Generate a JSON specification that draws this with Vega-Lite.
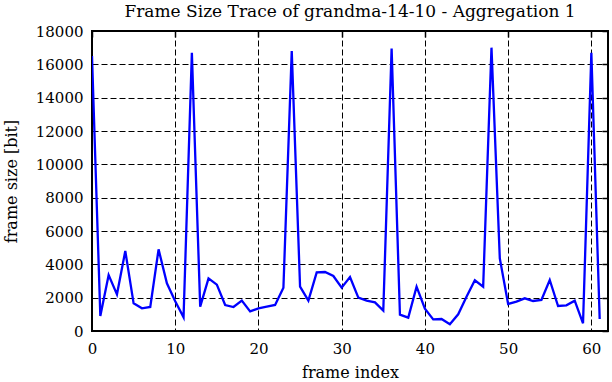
{
  "$schema": "https://vega.github.io/schema/vega-lite/v6.json",
  "width": 516,
  "height": 300,
  "autosize": {"type": "none"},
  "padding": {"left": 92, "top": 31, "right": 4, "bottom": 51},
  "background": "white",
  "title": {
    "text": "Frame Size Trace of grandma-14-10 - Aggregation 1",
    "font": "DejaVu Serif",
    "fontSize": 17,
    "fontWeight": "normal",
    "color": "black",
    "offset": 3
  },
  "config": {
    "view": {"stroke": "black", "strokeWidth": 2},
    "axis": {
      "labelFont": "DejaVu Serif",
      "titleFont": "DejaVu Serif",
      "labelFontSize": 15,
      "titleFontSize": 16,
      "titleFontWeight": "normal",
      "labelColor": "black",
      "titleColor": "black",
      "labelFlush": false,
      "domain": false,
      "tickColor": "black",
      "gridColor": "black",
      "gridDash": [6, 3],
      "gridWidth": 1,
      "gridOpacity": 1
    }
  },
  "data": {
    "values": [
      {"frame": 0, "size": 16500},
      {"frame": 1, "size": 900},
      {"frame": 2, "size": 3360},
      {"frame": 3, "size": 2200},
      {"frame": 4, "size": 4800},
      {"frame": 5, "size": 1660},
      {"frame": 6, "size": 1360},
      {"frame": 7, "size": 1440},
      {"frame": 8, "size": 4900},
      {"frame": 9, "size": 2860},
      {"frame": 10, "size": 1780},
      {"frame": 11, "size": 820},
      {"frame": 12, "size": 16700},
      {"frame": 13, "size": 1460},
      {"frame": 14, "size": 3160},
      {"frame": 15, "size": 2780},
      {"frame": 16, "size": 1560},
      {"frame": 17, "size": 1440},
      {"frame": 18, "size": 1820},
      {"frame": 19, "size": 1180},
      {"frame": 20, "size": 1360},
      {"frame": 21, "size": 1460},
      {"frame": 22, "size": 1560},
      {"frame": 23, "size": 2600},
      {"frame": 24, "size": 16800},
      {"frame": 25, "size": 2660},
      {"frame": 26, "size": 1820},
      {"frame": 27, "size": 3520},
      {"frame": 28, "size": 3540},
      {"frame": 29, "size": 3300},
      {"frame": 30, "size": 2600},
      {"frame": 31, "size": 3240},
      {"frame": 32, "size": 2000},
      {"frame": 33, "size": 1820},
      {"frame": 34, "size": 1720},
      {"frame": 35, "size": 1220},
      {"frame": 36, "size": 16950},
      {"frame": 37, "size": 980},
      {"frame": 38, "size": 800},
      {"frame": 39, "size": 2660},
      {"frame": 40, "size": 1340},
      {"frame": 41, "size": 700},
      {"frame": 42, "size": 720},
      {"frame": 43, "size": 400},
      {"frame": 44, "size": 1000},
      {"frame": 45, "size": 2060},
      {"frame": 46, "size": 3040},
      {"frame": 47, "size": 2660},
      {"frame": 48, "size": 17000},
      {"frame": 49, "size": 4360},
      {"frame": 50, "size": 1620},
      {"frame": 51, "size": 1760},
      {"frame": 52, "size": 1960},
      {"frame": 53, "size": 1800},
      {"frame": 54, "size": 1860},
      {"frame": 55, "size": 3060},
      {"frame": 56, "size": 1500},
      {"frame": 57, "size": 1540},
      {"frame": 58, "size": 1820},
      {"frame": 59, "size": 460},
      {"frame": 60, "size": 16700},
      {"frame": 61, "size": 720}
    ]
  },
  "layer": [
    {
      "mark": {"type": "line", "color": "#0000ff", "strokeWidth": 2.3, "clip": true},
      "encoding": {
        "x": {
          "field": "frame",
          "type": "quantitative",
          "scale": {"domain": [0, 62], "nice": false, "zero": false},
          "axis": {
            "orient": "bottom",
            "title": "frame index",
            "values": [0, 10, 20, 30, 40, 50, 60],
            "grid": true,
            "tickSize": 0,
            "labelPadding": 10,
            "titlePadding": 8,
            "format": "d"
          }
        },
        "y": {
          "field": "size",
          "type": "quantitative",
          "scale": {"domain": [0, 18000], "nice": false},
          "axis": {
            "orient": "left",
            "title": "frame size [bit]",
            "values": [0, 2000, 4000, 6000, 8000, 10000, 12000, 14000, 16000, 18000],
            "grid": true,
            "tickSize": 0,
            "labelPadding": 9,
            "titlePadding": 16,
            "format": "d"
          }
        }
      }
    },
    {
      "mark": {"type": "line", "opacity": 0},
      "encoding": {
        "x": {
          "field": "frame",
          "type": "quantitative",
          "axis": {
            "orient": "top",
            "title": null,
            "labels": false,
            "values": [0, 10, 20, 30, 40, 50, 60],
            "grid": false,
            "tickSize": -6,
            "tickWidth": 1.5
          }
        },
        "y": {
          "field": "size",
          "type": "quantitative",
          "axis": {
            "orient": "right",
            "title": null,
            "labels": false,
            "values": [0, 2000, 4000, 6000, 8000, 10000, 12000, 14000, 16000, 18000],
            "grid": false,
            "tickSize": -6,
            "tickWidth": 1.5
          }
        }
      }
    }
  ],
  "resolve": {"axis": {"x": "independent", "y": "independent"}}
}
